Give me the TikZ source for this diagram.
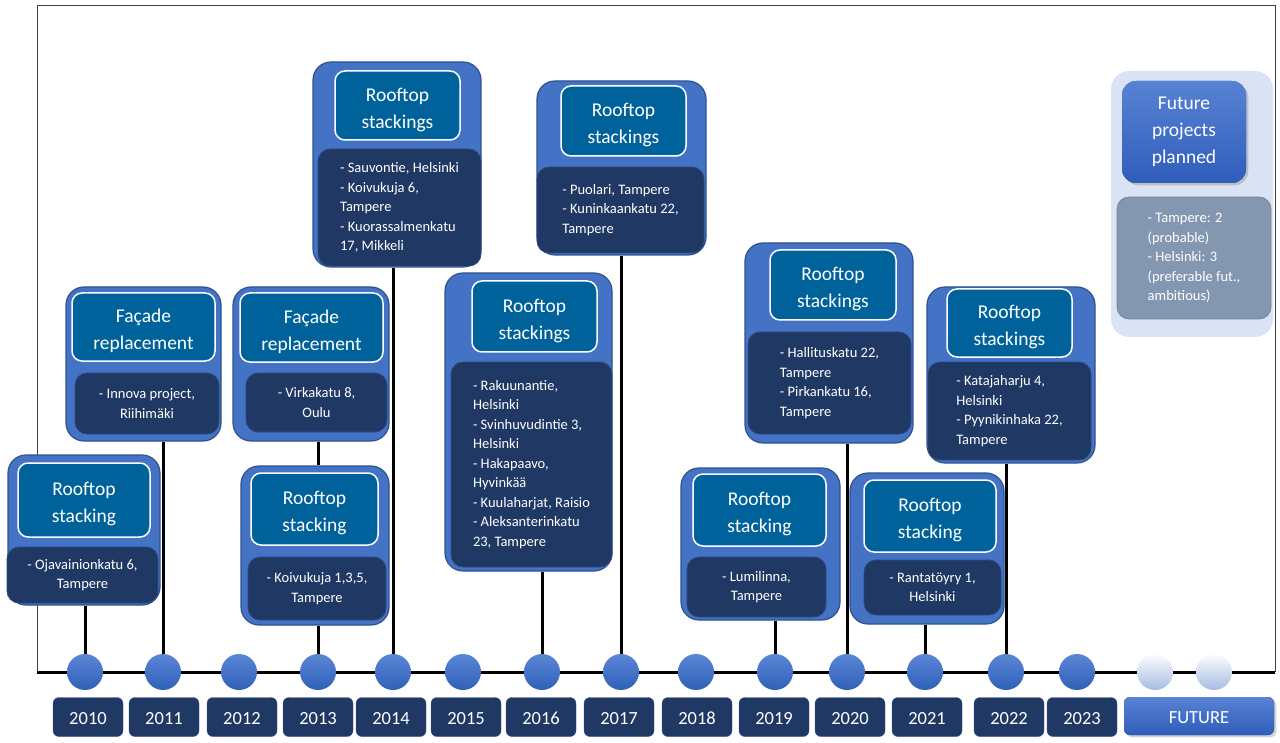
\documentclass[tikz,border=0pt]{standalone}
\usepackage{fontspec}
\setmainfont{Carlito}
\usetikzlibrary{shadows}
\definecolor{cardblue}{HTML}{4472C4}
\definecolor{cardedge}{HTML}{2F528F}
\definecolor{headteal}{HTML}{00629B}
\definecolor{navy}{HTML}{203864}
\definecolor{navyedge}{HTML}{2E4A80}
\definecolor{futbg}{HTML}{DAE3F3}
\definecolor{futbody}{HTML}{8497B0}
\definecolor{dottop}{HTML}{5A86D6}
\definecolor{dotbot}{HTML}{3060B8}
\definecolor{futtop}{HTML}{5882D4}
\definecolor{futbot}{HTML}{2F5DBA}
% taller first line, so the header text sits a little low in its box
\newcommand{\hs}{\rule{0pt}{22pt}}
\tikzset{
  wh/.style 2 args={minimum width=#1pt, minimum height=#2pt},
  card/.style={draw=cardedge, fill=cardblue, line width=1.2pt, rounded corners=18pt, inner sep=0pt},
  head/.style={draw=white, fill=headteal, line width=1.5pt, rounded corners=10pt, inner sep=0pt,
    text=white, align=center, font=\fontsize{19.5}{27}\selectfont},
  body/.style={draw=navyedge, fill=navy, line width=0.8pt, rounded corners=12pt, inner sep=0pt,
    text=white, align=center, font=\fontsize{14.5}{19.5}\selectfont},
  dot/.style={circle, minimum size=36pt, inner sep=0pt, top color=dottop, bottom color=dotbot},
  fdot/.style={circle, minimum size=36pt, inner sep=0pt, top color=white!92!futbg, bottom color=futbg!70!dotbot},
  year/.style={draw=navyedge!70!cardblue, fill=navy, rounded corners=6pt, wh={70}{39}, inner sep=0pt,
    text height=15pt, text depth=0pt, text=white, font=\fontsize{18.5}{20}\selectfont},
  link/.style={line width=3pt, black},
}
\begin{document}
\begin{tikzpicture}[x=1pt, y=-1pt]
  \useasboundingbox (0,0) rectangle (1280,743);
  % frame and timeline
  \draw[line width=1pt, black!75] (37,672) -- (37,6) -- (1275,6) -- (1275,672);
  \draw[link] (37,672) -- (1275,672);

  % years
  \foreach \yr/\cx/\bx in {2010/85/88, 2011/163/164, 2012/239/242, 2013/318/318, 2014/393/391,
      2015/463/466, 2016/542/541, 2017/621/619, 2018/696/697, 2019/775/774,
      2020/847/850, 2021/925/927, 2022/1006/1009, 2023/1077/1082} {
    \node[dot] (y\yr) at (\cx,672) {};
    \node[year] (l\yr) at (\bx,717) {\yr};
  }
  \node[fdot] (f1) at (1155,672) {};
  \node[fdot] (f2) at (1214,672) {};
  \node[year, draw=none, wh={150}{38}, top color=futtop, bottom color=futbot,
    drop shadow={opacity=0.35}] (lfut) at (1199,716) {FUTURE};

  % cards
  \begin{scope}[name prefix = c10-]
    \node[card, wh={152}{150}] (out) at (84,530) {};
    \node[head, wh={132}{74}] (head) at (84,500) {\hs Rooftop\\stacking};
    \node[body, wh={151}{56}] (body) at (82.5,575) {- Ojavainionkatu 6,\\Tampere};
  \end{scope}
  \begin{scope}[name prefix = c11-]
    \node[card, wh={155}{154}] (out) at (143.5,364) {};
    \node[head, wh={143}{68}] (head) at (143.5,327) {\hs Façade\\replacement};
    \node[body, wh={144}{61}] (body) at (147,403.5) {- Innova project,\\Riihimäki};
  \end{scope}
  \begin{scope}[name prefix = c12-]
    \node[card, wh={156}{154}] (out) at (311,364) {};
    \node[head, wh={143}{69}] (head) at (311.5,327.5) {\hs Façade\\replacement};
    \node[body, wh={141}{59}] (body) at (316.5,402.5) {- Virkakatu 8,\\Oulu};
  \end{scope}
  \begin{scope}[name prefix = c13-]
    \node[card, wh={148}{159}] (out) at (315,545.5) {};
    \node[head, wh={127}{72}] (head) at (314.5,509) {\hs Rooftop\\stacking};
    \node[body, wh={138}{63}] (body) at (317,588.5) {- Koivukuja 1,3,5,\\Tampere};
  \end{scope}
  \begin{scope}[name prefix = c14-]
    \node[card, wh={168}{205}] (out) at (397,164.5) {};
    \node[head, wh={125}{69}] (head) at (397.5,105.5) {\hs Rooftop\\stackings};
    \node[body, wh={163}{117}, align=left] (body) at (399.5,207.5)
      {- Sauvontie, Helsinki\\- Koivukuja 6,\\Tampere\\- Kuorassalmenkatu\\17, Mikkeli};
  \end{scope}
  \begin{scope}[name prefix = c16-]
    \node[card, wh={167}{298}] (out) at (528.5,422) {};
    \node[head, wh={125}{71}] (head) at (534.5,316.5) {\hs Rooftop\\stackings};
    \node[body, wh={161}{205}, align=left] (body) at (531.5,464.5)
      {- Rakuunantie,\\Helsinki\\- Svinhuvudintie 3,\\Helsinki\\- Hakapaavo,\\Hyvinkää\\- Kuulaharjat, Raisio\\- Aleksanterinkatu\\23, Tampere};
  \end{scope}
  \begin{scope}[name prefix = c17-]
    \node[card, wh={169}{174}] (out) at (621.5,168) {};
    \node[head, wh={125}{70}] (head) at (623.5,121) {\hs Rooftop\\stackings};
    \node[body, wh={167}{86}, align=left] (body) at (620.5,210)
      {- Puolari, Tampere\\- Kuninkaankatu 22,\\Tampere};
  \end{scope}
  \begin{scope}[name prefix = c19-]
    \node[card, wh={159}{152}] (out) at (760.5,544) {};
    \node[head, wh={133}{72}] (head) at (759.5,510) {\hs Rooftop\\stacking};
    \node[body, wh={139}{60}] (body) at (756.5,587) {- Lumilinna,\\Tampere};
  \end{scope}
  \begin{scope}[name prefix = c20-]
    \node[card, wh={168}{200}] (out) at (829,343) {};
    \node[head, wh={126}{70}] (head) at (833,285) {\hs Rooftop\\stackings};
    \node[body, wh={163}{102}, align=left] (body) at (829.5,383)
      {- Hallituskatu 22,\\Tampere\\- Pirkankatu 16,\\Tampere};
  \end{scope}
  \begin{scope}[name prefix = c21-]
    \node[card, wh={154}{151}] (out) at (927,548.5) {};
    \node[head, wh={132}{72}] (head) at (930,516) {\hs Rooftop\\stacking};
    \node[body, wh={137}{55}] (body) at (932.5,587.5) {- Rantatöyry 1,\\Helsinki};
  \end{scope}
  \begin{scope}[name prefix = c22-]
    \node[card, wh={168}{176}] (out) at (1011,375) {};
    \node[head, wh={125}{68}] (head) at (1009.5,323) {\hs Rooftop\\stackings};
    \node[body, wh={163}{98}, align=left] (body) at (1009.5,411)
      {- Katajaharju 4,\\Helsinki\\- Pyynikinhaka 22,\\Tampere};
  \end{scope}
  \begin{scope}[name prefix = fut-]
    \node[card, draw=none, fill=futbg, wh={162}{266}] (out) at (1192,204) {};
    \node[head, draw=none, wh={124}{102}, rounded corners=14pt, top color=futtop,
      bottom color=futbot, drop shadow={opacity=0.35}] (head) at (1184,132)
      {Future\\projects\\planned};
    \node[body, draw=futbody!90!black, fill=futbody, wh={154}{122}, align=left] (body) at (1194,258)
      {- Tampere: 2\\(probable)\\- Helsinki: 3\\(preferable fut.,\\ambitious)};
  \end{scope}

  % connectors
  \draw[link] (y2010.north) -- (y2010.north |- c10-out.south);
  \draw[link] (y2011.north) -- (y2011.north |- c11-out.south);
  \draw[link] (y2013.north) -- (y2013.north |- c13-out.south);
  \draw[link] (y2013 |- c12-out.south) -- (y2013 |- c13-out.north);
  \draw[link] (y2014.north) -- (y2014.north |- c14-out.south);
  \draw[link] (y2016.north) -- (y2016.north |- c16-out.south);
  \draw[link] (y2017.north) -- (y2017.north |- c17-out.south);
  \draw[link] (y2019.north) -- (y2019.north |- c19-out.south);
  \draw[link] (y2020.north) -- (y2020.north |- c20-out.south);
  \draw[link] (y2021.north) -- (y2021.north |- c21-out.south);
  \draw[link] (y2022.north) -- (y2022.north |- c22-out.south);
\end{tikzpicture}
\end{document}
